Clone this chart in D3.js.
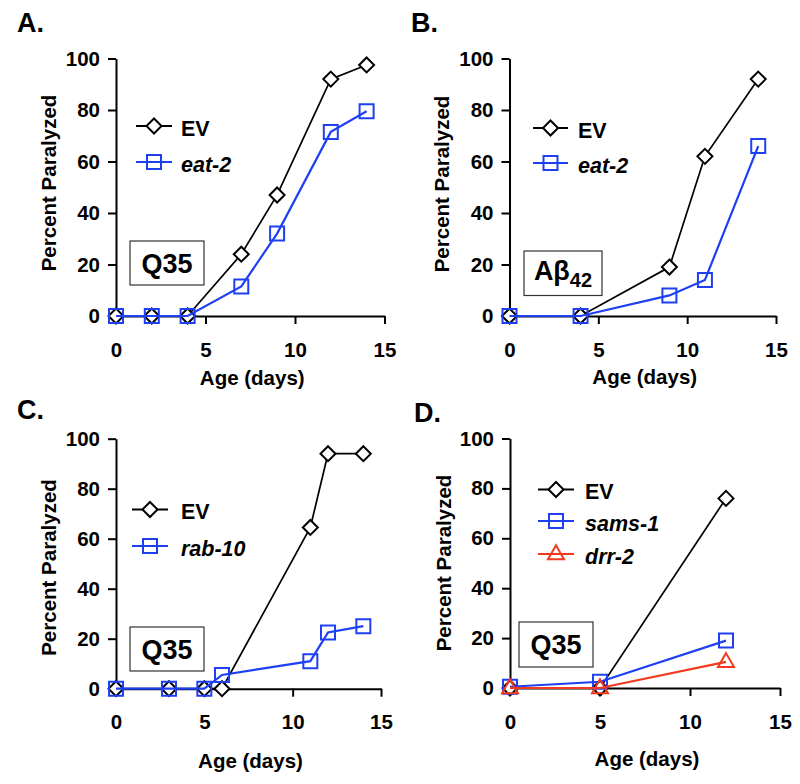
<!DOCTYPE html>
<html><head><meta charset="utf-8">
<script src="https://cdn.jsdelivr.net/npm/d3@7"></script>
<style>
body{margin:0;background:#fff;}
svg text{font-family:"Liberation Sans",Arial,Helvetica,sans-serif;font-weight:bold;fill:#000;}
</style></head><body>
<svg id="chart" width="800" height="784"></svg>
<script>
// ---------- data ----------
const xTicks = [0, 5, 10, 15];
const yTicks = [0, 20, 40, 60, 80, 100];
const xTitle = "Age (days)";
const yTitle = "Percent Paralyzed";
const panelLabels = ["A.", "B.", "C.", "D."];

const aDays = [0, 2, 4, 7, 9, 12, 14];
const aEV   = [0, 0, 0, 24, 47, 92, 97.5];
const aEat2 = [0, 0, 0, 11.5, 32, 71.5, 79.5];

const bDays = [0, 4, 9, 11, 14];
const bEV   = [0, 0, 19, 62, 92];
const bEat2 = [0, 0, 8, 14, 66];

const cDays  = [0, 3, 5, 6, 11, 12, 14];
const cEV    = [0, 0, 0, 0, 64.5, 94, 94];
const cRab10 = [0, 0, 0, 5.5, 11, 22.5, 25];

const dDays  = [0, 5, 12];
const dEV    = [0, 0, 76];
const dSams1 = [0.5, 2.5, 19];
const dDrr2  = [0, 0, 10.5];

// ---------- style ----------
const BLACK = "#000000", BLUE = "#1f40f2", RED = "#f23a1e";

const panels = [
  { label: panelLabels[0], labelPos: [17, 32], xr: [116, 384.5], yr: [316, 58.5],
    yTitlePos: [56, 183], xTitleY: 385,
    legend: { lineX: [136, 172], textX: 181, ys: [126, 162] },
    box: [130, 241, 74, 44], boxText: "Q35",
    series: [
      { name: "EV", italic: false, days: aDays, vals: aEV, color: BLACK, sym: "diamond" },
      { name: "eat-2", italic: true, days: aDays, vals: aEat2, color: BLUE, sym: "square" }
    ] },
  { label: panelLabels[1], labelPos: [411, 32], xr: [509.5, 776], yr: [316, 58.5],
    yTitlePos: [449, 184], xTitleY: 384,
    legend: { lineX: [533, 568], textX: 578, ys: [128, 163] },
    box: [524, 251, 78, 44.5], boxText: "Abeta",
    series: [
      { name: "EV", italic: false, days: bDays, vals: bEV, color: BLACK, sym: "diamond" },
      { name: "eat-2", italic: true, days: bDays, vals: bEat2, color: BLUE, sym: "square" }
    ] },
  { label: panelLabels[2], labelPos: [17, 419], xr: [116, 381], yr: [688.7, 438.7],
    yTitlePos: [55.6, 567.5], xTitleY: 767.5,
    legend: { lineX: [132, 168], textX: 181, ys: [509.5, 546] },
    box: [130, 627, 74, 44], boxText: "Q35",
    series: [
      { name: "EV", italic: false, days: cDays, vals: cEV, color: BLACK, sym: "diamond" },
      { name: "rab-10", italic: true, days: cDays, vals: cRab10, color: BLUE, sym: "square" }
    ] },
  { label: panelLabels[3], labelPos: [414, 422], xr: [510, 780], yr: [688, 438.5],
    yTitlePos: [450.6, 563], xTitleY: 766,
    legend: { lineX: [538, 574], textX: 585, ys: [489.5, 521, 554] },
    box: [519, 622, 74, 45], boxText: "Q35",
    series: [
      { name: "EV", italic: false, days: dDays, vals: dEV, color: BLACK, sym: "diamond" },
      { name: "sams-1", italic: true, days: dDays, vals: dSams1, color: BLUE, sym: "square" },
      { name: "drr-2", italic: true, days: dDays, vals: dDrr2, color: RED, sym: "triangle" }
    ] }
];

function symPath(type) {
  if (type === "diamond") { const r = 7.5; return `M0,${-r}L${r},0L0,${r}L${-r},0Z`; }
  if (type === "square") { const r = 7; return `M${-r},${-r}H${r}V${r}H${-r}Z`; }
  const h = 14, w = 8; return `M0,${-h * 0.62}L${w},${h * 0.38}L${-w},${h * 0.38}Z`;
}

const svg = d3.select("#chart");

panels.forEach(p => {
  const g = svg.append("g");
  const x = d3.scaleLinear().domain([0, 15]).range(p.xr);
  const y = d3.scaleLinear().domain([0, 100]).range(p.yr);

  g.append("text").attr("x", p.labelPos[0]).attr("y", p.labelPos[1])
    .style("font-size", "27px").text(p.label);

  const ya = g.append("g").attr("transform", `translate(${p.xr[0]},0)`)
    .call(d3.axisLeft(y).tickValues(yTicks).tickSize(8).tickSizeOuter(0).tickPadding(8));
  const xa = g.append("g").attr("transform", `translate(0,${p.yr[0]})`)
    .call(d3.axisBottom(x).tickValues(xTicks).tickSize(8).tickSizeOuter(0).tickPadding(18));
  [ya, xa].forEach(a => {
    a.select(".domain").attr("stroke", "#000").attr("stroke-width", 2);
    a.selectAll(".tick line").attr("stroke", "#000").attr("stroke-width", 2);
    a.selectAll(".tick text").style("font-size", "20.5px").attr("fill", "#000")
      .style("font-family", '"Liberation Sans",Arial,sans-serif').style("font-weight", "bold");
  });
  xa.selectAll(".tick").filter(d => d === 0).select("line").remove();

  g.append("text").attr("text-anchor", "middle")
    .attr("transform", `translate(${p.yTitlePos[0]},${p.yTitlePos[1]}) rotate(-90)`)
    .style("font-size", "20.5px").text(yTitle);
  g.append("text").attr("text-anchor", "middle")
    .attr("x", (p.xr[0] + p.xr[1]) / 2 + 2).attr("y", p.xTitleY)
    .style("font-size", "20.5px").text(xTitle);

  const line = d3.line().x(d => x(d[0])).y(d => y(d[1]));
  p.series.forEach(s => {
    const pts = s.days.map((d, i) => [d, s.vals[i]]);
    g.append("path").datum(pts).attr("d", line).attr("fill", "none")
      .attr("stroke", s.color).attr("stroke-width", s.color === BLACK ? 1.7 : 2.2);
    g.selectAll(null).data(pts).enter().append("path")
      .attr("transform", d => `translate(${x(d[0])},${y(d[1])})`)
      .attr("d", symPath(s.sym))
      .attr("fill", s.sym === "diamond" ? "#fff" : "none")
      .attr("stroke", s.color).attr("stroke-width", 2);
  });

  p.series.forEach((s, i) => {
    const ly = p.legend.ys[i];
    g.append("line").attr("x1", p.legend.lineX[0]).attr("x2", p.legend.lineX[1])
      .attr("y1", ly).attr("y2", ly).attr("stroke", s.color).attr("stroke-width", 2);
    g.append("path").attr("transform", `translate(${(p.legend.lineX[0] + p.legend.lineX[1]) / 2},${ly})`)
      .attr("d", symPath(s.sym)).attr("fill", s.sym === "diamond" ? "#fff" : "none")
      .attr("stroke", s.color).attr("stroke-width", 2);
    g.append("text").attr("x", p.legend.textX).attr("y", ly + 9.5)
      .style("font-size", "21.5px").style("font-style", s.italic ? "italic" : "normal")
      .text(s.name);
  });

  const [bx, by, bw, bh] = p.box;
  g.append("rect").attr("x", bx).attr("y", by).attr("width", bw).attr("height", bh)
    .attr("fill", "#fff").attr("stroke", "#333").attr("stroke-width", 1.2);
  const t = g.append("text").attr("text-anchor", "middle")
    .attr("x", bx + bw / 2).attr("y", by + bh / 2 + 9.5).style("font-size", "27px");
  if (p.boxText === "Abeta") {
    t.attr("y", by + bh / 2 + 7);
    t.append("tspan").text("A\u03B2");
    t.append("tspan").attr("dy", 7).style("font-size", "20px").text("42");
  } else {
    t.text(p.boxText);
  }
});
</script>
</body></html>
